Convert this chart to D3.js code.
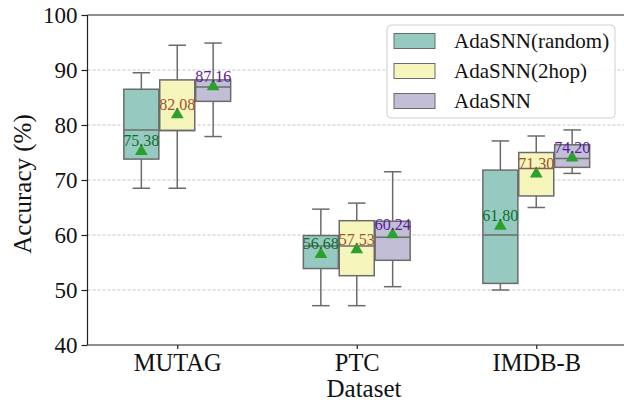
<!DOCTYPE html>
<html>
<head>
<meta charset="utf-8">
<script src="https://cdn.jsdelivr.net/npm/d3@7"></script>
<style>
  body { margin: 0; background: #fff; }
  svg text { font-family: "Liberation Serif", "Times New Roman", serif; }
</style>
</head>
<body>
<div id="chart"></div>
<script>
// Data
var datasets = ["MUTAG", "PTC", "IMDB-B"];
var methods = ["AdaSNN(random)", "AdaSNN(2hop)", "AdaSNN"];
var colors = ["#96cac1", "#f6f6bc", "#c1bed6"];
var labelColors = ["#0b6e2a", "#a0522d", "#5a1a9a"];

// [whiskerLow, q1, median, q3, whiskerHigh, mean] per dataset
var randomStats = [
  [68.5, 73.8, 79.1, 86.5, 89.5, 75.38],
  [47.15, 53.9, 58.0, 59.9, 64.7, 56.68],
  [50.0, 51.2, 60.0, 71.8, 77.1, 61.80]
];
var twoHopStats = [
  [68.5, 79.0, 79.0, 88.2, 94.5, 82.08],
  [47.15, 52.6, 58.0, 62.6, 65.8, 57.53],
  [65.0, 67.1, 72.1, 75.0, 78.0, 71.30]
];
var adaStats = [
  [77.9, 84.3, 86.9, 88.2, 94.9, 87.16],
  [50.6, 55.4, 59.6, 62.5, 71.5, 60.24],
  [71.2, 72.3, 73.9, 76.4, 79.1, 74.20]
];
var yTicks = [40, 50, 60, 70, 80, 90, 100];
var gridTicks = [50, 60, 70, 80, 90];

var allStats = [randomStats, twoHopStats, adaStats];

var svgWidth = 624, svgHeight = 402;
var margin = { top: 15, left: 87.5, bottom: 57 };

var svg = d3.select("#chart")
  .append("svg")
  .attr("width", svgWidth)
  .attr("height", svgHeight);

var x = d3.scaleLinear().domain([-0.5, 2.5]).range([margin.left, 626]);
var y = d3.scaleLinear().domain([40, 100]).range([svgHeight - margin.bottom, margin.top]);

var boxW = x(0.195) - x(0);
var capW = boxW / 2;
var lineColor = "#6b6b6b";

// gridlines
svg.append("g").selectAll("line")
  .data(gridTicks)
  .enter().append("line")
    .attr("x1", x(-0.5)).attr("x2", 630)
    .attr("y1", d => y(d)).attr("y2", d => y(d))
    .attr("stroke", "#c4c4c4")
    .attr("stroke-width", 1)
    .attr("stroke-dasharray", "3,2");

// boxes
var boxes = [];
methods.forEach(function(m, mi) {
  allStats[mi].forEach(function(s, di) {
    boxes.push({ m: mi, d: di, s: s, cx: x(di + (mi - 1) * 0.2) });
  });
});

var g = svg.append("g").selectAll("g.box")
  .data(boxes)
  .enter().append("g")
  .attr("class", "box");

// whiskers
g.append("line")
  .attr("x1", d => d.cx).attr("x2", d => d.cx)
  .attr("y1", d => y(d.s[0])).attr("y2", d => y(d.s[1]))
  .attr("stroke", lineColor).attr("stroke-width", 1.5);
g.append("line")
  .attr("x1", d => d.cx).attr("x2", d => d.cx)
  .attr("y1", d => y(d.s[3])).attr("y2", d => y(d.s[4]))
  .attr("stroke", lineColor).attr("stroke-width", 1.5);
// caps
[0, 4].forEach(function(k) {
  g.append("line")
    .attr("x1", d => d.cx - capW / 2).attr("x2", d => d.cx + capW / 2)
    .attr("y1", d => y(d.s[k])).attr("y2", d => y(d.s[k]))
    .attr("stroke", lineColor).attr("stroke-width", 1.5);
});
// box body
g.append("rect")
  .attr("x", d => d.cx - boxW / 2)
  .attr("width", boxW)
  .attr("y", d => y(d.s[3]))
  .attr("height", d => y(d.s[1]) - y(d.s[3]))
  .attr("fill", d => colors[d.m])
  .attr("stroke", lineColor).attr("stroke-width", 1.5);
// median
g.append("line")
  .attr("x1", d => d.cx - boxW / 2).attr("x2", d => d.cx + boxW / 2)
  .attr("y1", d => y(d.s[2])).attr("y2", d => y(d.s[2]))
  .attr("stroke", lineColor).attr("stroke-width", 1.5);
// mean marker
g.append("path")
  .attr("d", d3.symbol().type(d3.symbolTriangle).size(70))
  .attr("transform", d => "translate(" + d.cx + "," + (y(d.s[5]) + 1) + ")")
  .attr("fill", "#2ca02c");
// mean label
g.append("text")
  .attr("x", d => d.cx)
  .attr("y", d => y(d.s[5]) - 4)
  .attr("text-anchor", "middle")
  .style("font-size", "16px")
  .attr("fill", d => labelColors[d.m])
  .text(d => d.s[5].toFixed(2));

// axes
var leftAxis = d3.axisLeft(y).tickValues(yTicks).tickSize(6).tickSizeOuter(0).tickPadding(4);
var bottomAxis = d3.axisBottom(x).tickValues([0, 1, 2]).tickFormat(i => datasets[i])
  .tickSize(4).tickSizeOuter(0).tickPadding(5);

var ya = svg.append("g").attr("transform", "translate(" + x(-0.5) + ",0)").call(leftAxis);
var xa = svg.append("g").attr("transform", "translate(0," + y(40) + ")").call(bottomAxis);
[ya, xa].forEach(function(a) {
  a.select(".domain").remove();
  a.selectAll("line").attr("stroke", "#222").attr("stroke-width", 1.2);
  a.selectAll("text").attr("fill", "#111")
    .style("font-family", "'Liberation Serif', serif");
});
ya.selectAll("text").style("font-size", "23px");
xa.selectAll("text").style("font-size", "24.5px");

// spines
svg.append("line").attr("x1", x(-0.5)).attr("x2", x(-0.5))
  .attr("y1", y(40)).attr("y2", y(100)).attr("stroke", "#222").attr("stroke-width", 1.2);
svg.append("line").attr("x1", x(-0.5)).attr("x2", 630)
  .attr("y1", y(40)).attr("y2", y(40)).attr("stroke", "#222").attr("stroke-width", 1.2);
svg.append("line").attr("x1", x(-0.5)).attr("x2", 630)
  .attr("y1", y(100)).attr("y2", y(100)).attr("stroke", "#222").attr("stroke-width", 1.2);

// axis labels
svg.append("text")
  .attr("transform", "translate(31,184) rotate(-90)")
  .attr("text-anchor", "middle")
  .style("font-size", "25px")
  .attr("fill", "#111")
  .text("Accuracy (%)");
svg.append("text")
  .attr("x", 364).attr("y", 396.5)
  .attr("text-anchor", "middle")
  .style("font-size", "25px")
  .attr("fill", "#111")
  .text("Dataset");

// legend
var legend = svg.append("g");
legend.append("rect")
  .attr("x", 387).attr("y", 25).attr("width", 228).attr("height", 93)
  .attr("rx", 4)
  .attr("fill", "#fff").attr("fill-opacity", 0.85)
  .attr("stroke", "#d0d0d0").attr("stroke-width", 1);
var items = legend.selectAll("g.item")
  .data(methods)
  .enter().append("g")
  .attr("transform", (d, i) => "translate(394," + (41 + i * 30) + ")");
items.append("rect")
  .attr("x", 0).attr("y", -7.5).attr("width", 41).attr("height", 15)
  .attr("fill", (d, i) => colors[i])
  .attr("stroke", lineColor).attr("stroke-width", 1);
items.append("text")
  .attr("x", 60).attr("y", 7)
  .style("font-size", "21px")
  .attr("fill", "#111")
  .text(d => d);
</script>
</body>
</html>
